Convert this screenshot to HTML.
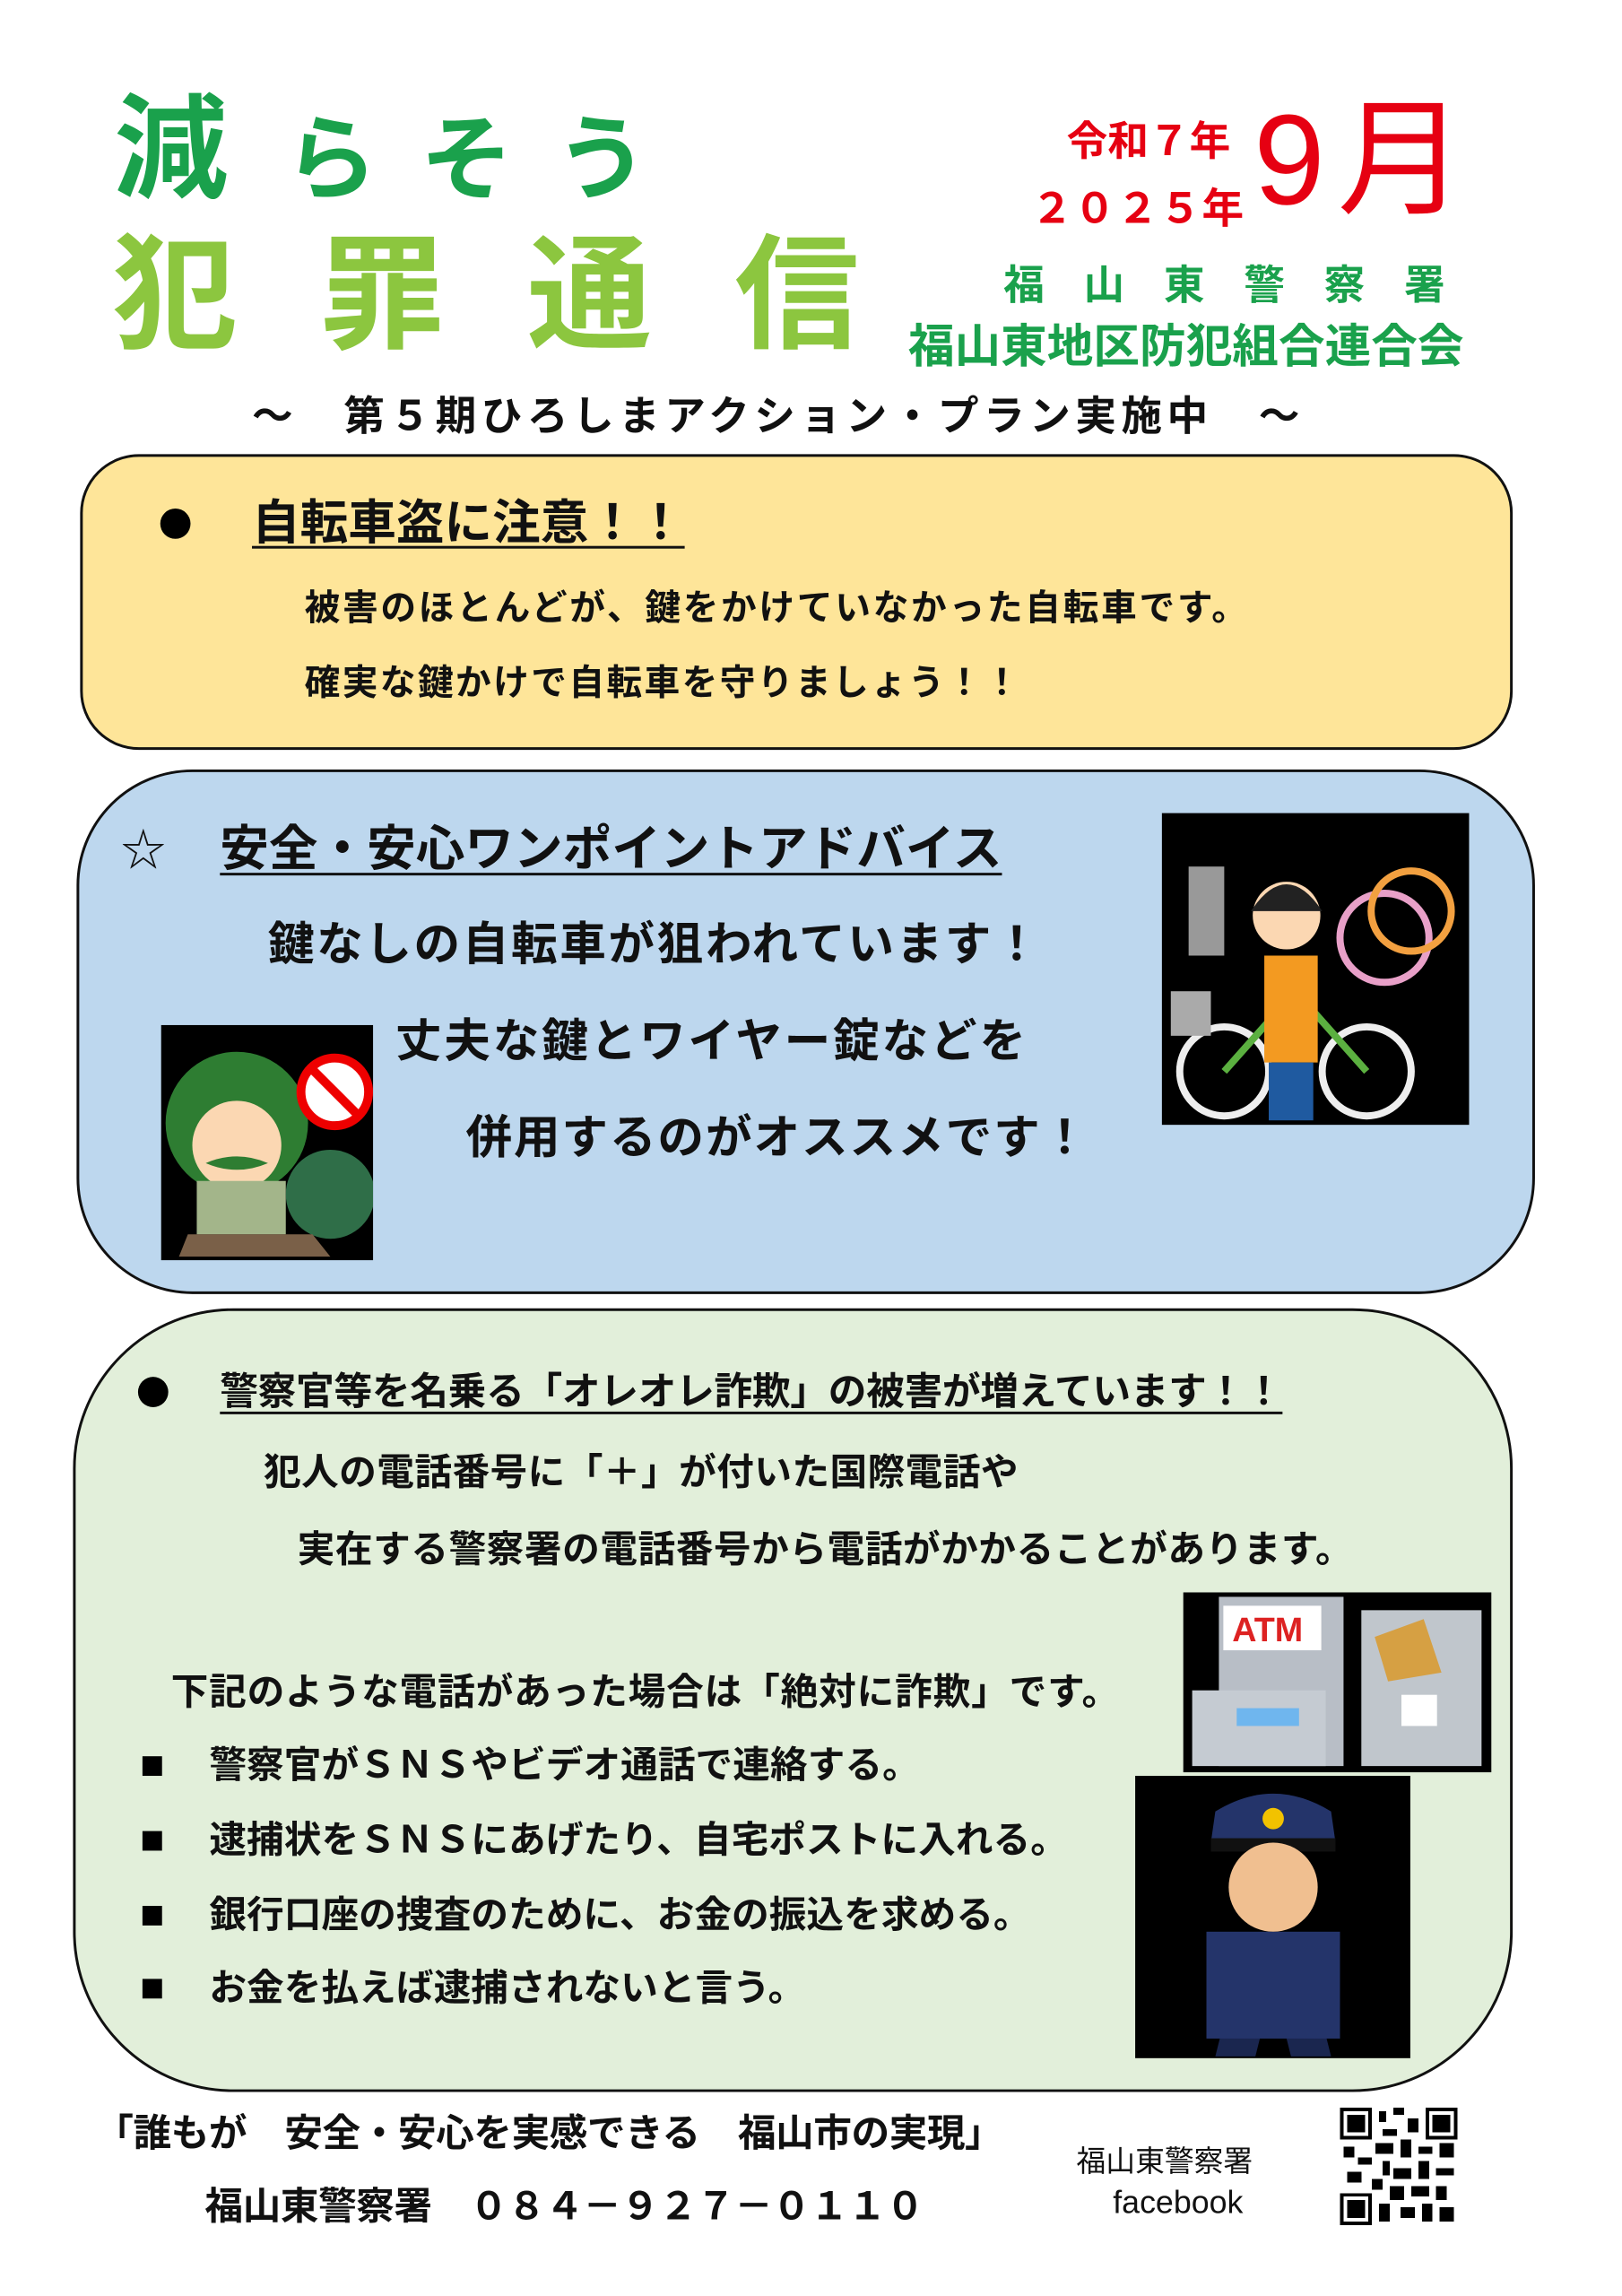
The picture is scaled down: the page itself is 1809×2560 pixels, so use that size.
<!DOCTYPE html>
<html><head><meta charset="utf-8"><style>
body{margin:0;width:1809px;height:2560px;background:#fff;position:relative;overflow:hidden;font-family:"Liberation Sans","Noto Sans CJK JP",sans-serif;}
#w{position:absolute;left:0;top:0;width:1809px;height:2560px;transform:scale(0.993);transform-origin:0 0;}
.t{position:absolute;white-space:nowrap;line-height:1;font-weight:bold;color:#111;}
.box{position:absolute;border:3px solid #111;box-sizing:border-box;}
.img{position:absolute;background:#000;overflow:hidden;}
.dot{position:absolute;width:34px;height:34px;border-radius:50%;background:#000;}
.sq{position:absolute;width:22px;height:22px;background:#000;}
u{text-decoration-thickness:3px;text-underline-offset:8px;}
</style></head><body><div id="w">
<div class="t" style="left:128px;top:105px;font-size:128px;color:#1aa14c;">減</div>
<div class="t" style="left:320px;top:128px;font-size:104px;color:#1aa14c;letter-spacing:48px;">らそう</div>
<div class="t" style="left:126px;top:262px;font-size:140px;color:#8cc63f;letter-spacing:93px;">犯罪通信</div>
<div class="t" style="left:1198px;top:135px;font-size:46px;color:#e60012;">令和７年</div>
<div class="t" style="left:1158px;top:210px;font-size:47px;color:#e60012;letter-spacing:1px;">２０２５年</div>
<div class="t" style="left:1408px;top:108px;font-size:144px;color:#e60012;font-weight:normal;letter-spacing:14px;">9月</div>
<div class="t" style="left:1127px;top:297px;font-size:46px;color:#1aa14c;letter-spacing:44px;">福山東警察署</div>
<div class="t" style="left:1020px;top:364px;font-size:52px;color:#1aa14c;letter-spacing:0px;">福山東地区防犯組合連合会</div>
<div class="t" style="left:283px;top:444px;font-size:46px;letter-spacing:5.5px;">～　第５期ひろしまアクション・プラン実施中　～</div>

<div class="box" style="left:90px;top:510px;width:1609px;height:332px;border-radius:66px;background:#fee599;"></div>
<div class="dot" style="left:180px;top:571px;"></div>
<div class="t" style="left:283px;top:560px;font-size:54px;"><u>自転車盗に注意！！</u></div>
<div class="t" style="left:342px;top:663px;font-size:40px;letter-spacing:2.7px;">被害のほとんどが、鍵をかけていなかった自転車です。</div>
<div class="t" style="left:342px;top:747px;font-size:40px;letter-spacing:2.4px;">確実な鍵かけで自転車を守りましょう！！</div>

<div class="box" style="left:86px;top:864px;width:1638px;height:589px;border-radius:130px;background:#bdd7ee;"></div>
<div class="t" style="left:136px;top:930px;font-size:50px;font-weight:normal;">☆</div>
<div class="t" style="left:247px;top:926px;font-size:55px;"><u>安全・安心ワンポイントアドバイス</u></div>
<div class="t" style="left:301px;top:1035px;font-size:52px;letter-spacing:2.6px;">鍵なしの自転車が狙われています！</div>
<div class="t" style="left:444px;top:1144px;font-size:52px;letter-spacing:2.8px;">丈夫な鍵とワイヤー錠などを</div>
<div class="t" style="left:523px;top:1252px;font-size:52px;letter-spacing:1.9px;">併用するのがオススメです！</div>
<div class="img" style="left:1305px;top:913px;width:345px;height:350px;">
<svg width="345" height="350"><g fill="none" stroke-width="8"><circle cx="70" cy="290" r="50" stroke="#eee"/><circle cx="230" cy="290" r="50" stroke="#eee"/><path d="M70 290 L150 200 L230 290" stroke="#5bb040"/><circle cx="250" cy="140" r="50" stroke="#e8a0c8"/><circle cx="280" cy="110" r="45" stroke="#f2a040"/></g><rect x="30" y="60" width="40" height="100" fill="#999"/><rect x="10" y="200" width="45" height="50" fill="#aaa"/><rect x="115" y="160" width="60" height="120" fill="#f39a21"/><rect x="120" y="280" width="50" height="65" fill="#1f5aa0"/><circle cx="140" cy="115" r="38" fill="#fbd7b2"/><path d="M100 110 Q140 50 180 110" fill="#222"/></svg></div>
<div class="img" style="left:181px;top:1151px;width:238px;height:264px;">
<svg width="238" height="264"><circle cx="85" cy="110" r="80" fill="#2e7d32"/><circle cx="85" cy="135" r="50" fill="#fbd7b2"/><path d="M50 155 Q85 140 120 155 Q85 170 50 155" fill="#2e7d32"/><rect x="40" y="175" width="100" height="60" fill="#a3b58a"/><circle cx="190" cy="190" r="50" fill="#2f6e48"/><path d="M30 235 L170 235 L190 260 L20 260Z" fill="#7a6048"/><circle cx="195" cy="75" r="38" fill="#fff" stroke="#e00" stroke-width="10"/><line x1="168" y1="48" x2="222" y2="102" stroke="#e00" stroke-width="10"/></svg></div>

<div class="box" style="left:82px;top:1469px;width:1617px;height:880px;border-radius:180px;background:#e2efda;"></div>
<div class="dot" style="left:155px;top:1546px;"></div>
<div class="t" style="left:247px;top:1542px;font-size:43px;letter-spacing:-0.3px;"><u>警察官等を名乗る「オレオレ詐欺」の被害が増えています！！</u></div>
<div class="t" style="left:296px;top:1632px;font-size:42px;letter-spacing:0.4px;">犯人の電話番号に「＋」が付いた国際電話や</div>
<div class="t" style="left:334px;top:1719px;font-size:42px;letter-spacing:0.5px;">実在する警察署の電話番号から電話がかかることがあります。</div>
<div class="t" style="left:192px;top:1879px;font-size:42px;letter-spacing:0.8px;">下記のような電話があった場合は「絶対に詐欺」です。</div>
<div class="sq" style="left:160px;top:1972px;"></div><div class="t" style="left:235px;top:1961px;font-size:42px;">警察官がＳＮＳやビデオ通話で連絡する。</div>
<div class="sq" style="left:160px;top:2056px;"></div><div class="t" style="left:235px;top:2045px;font-size:42px;">逮捕状をＳＮＳにあげたり、自宅ポストに入れる。</div>
<div class="sq" style="left:160px;top:2140px;"></div><div class="t" style="left:235px;top:2129px;font-size:42px;">銀行口座の捜査のために、お金の振込を求める。</div>
<div class="sq" style="left:160px;top:2222px;"></div><div class="t" style="left:235px;top:2211px;font-size:42px;">お金を払えば逮捕されないと言う。</div>
<div class="img" style="left:1329px;top:1788px;width:346px;height:202px;">
<svg width="346" height="202"><rect x="40" y="5" width="140" height="190" fill="#b8bec6"/><rect x="10" y="110" width="150" height="85" fill="#c5cbd2"/><rect x="60" y="130" width="70" height="20" fill="#6fb6ee"/><rect x="45" y="15" width="110" height="50" fill="#fff"/><text x="55" y="55" font-family="Liberation Sans" font-weight="bold" font-size="38" fill="#d22">ATM</text><rect x="200" y="20" width="135" height="175" fill="#c0c6cc"/><path d="M215 50 L270 30 L290 90 L230 100Z" fill="#d6a043"/><rect x="245" y="115" width="40" height="35" fill="#fff"/></svg></div>
<div class="img" style="left:1275px;top:1994px;width:309px;height:317px;">
<svg width="309" height="317"><path d="M90 40 Q155 0 220 40 L225 75 L85 75Z" fill="#24346a"/><circle cx="155" cy="48" r="12" fill="#f2c200"/><rect x="85" y="70" width="140" height="15" fill="#111"/><circle cx="155" cy="125" r="50" fill="#f0bf90"/><rect x="80" y="175" width="150" height="120" fill="#24346a"/><path d="M95 295 L140 295 L135 315 L90 315Z M170 295 L215 295 L220 315 L175 315Z" fill="#1a264f"/></svg></div>

<div class="t" style="left:107px;top:2375px;font-size:43px;letter-spacing:-0.5px;">「誰もが　安全・安心を実感できる　福山市の実現」</div>
<div class="t" style="left:230px;top:2457px;font-size:43px;letter-spacing:-0.5px;">福山東警察署　０８４－９２７－０１１０</div>
<div class="t" style="left:1209px;top:2410px;font-size:33px;font-weight:normal;">福山東警察署</div>
<div class="t" style="left:1250px;top:2455px;font-size:36px;font-weight:normal;">facebook</div>
<svg style="position:absolute;left:1505px;top:2365px" width="132" height="135" viewBox="0 0 33 33" shape-rendering="crispEdges">
<rect width="33" height="33" fill="#fff"/>
<g fill="#000"><rect x="0" y="0" width="9" height="9"/><rect x="24" y="0" width="9" height="9"/><rect x="0" y="24" width="9" height="9"/></g>
<g fill="#fff"><rect x="1" y="1" width="7" height="7"/><rect x="25" y="1" width="7" height="7"/><rect x="1" y="25" width="7" height="7"/></g>
<g fill="#000"><rect x="2" y="2" width="5" height="5"/><rect x="26" y="2" width="5" height="5"/><rect x="2" y="26" width="5" height="5"/>
<rect x="11" y="1" width="2" height="3"/><rect x="15" y="0" width="3" height="2"/><rect x="19" y="3" width="3" height="4"/><rect x="12" y="6" width="4" height="2"/><rect x="10" y="10" width="5" height="3"/><rect x="17" y="9" width="3" height="5"/><rect x="22" y="11" width="4" height="2"/><rect x="28" y="10" width="4" height="4"/><rect x="1" y="11" width="3" height="3"/><rect x="5" y="14" width="4" height="2"/><rect x="12" y="15" width="2" height="4"/><rect x="15" y="17" width="5" height="3"/><rect x="22" y="15" width="3" height="5"/><rect x="27" y="17" width="5" height="2"/><rect x="2" y="18" width="4" height="3"/><rect x="9" y="20" width="3" height="3"/><rect x="14" y="22" width="4" height="4"/><rect x="20" y="22" width="5" height="3"/><rect x="27" y="22" width="3" height="4"/><rect x="11" y="27" width="3" height="5"/><rect x="17" y="28" width="4" height="3"/><rect x="23" y="27" width="3" height="5"/><rect x="28" y="28" width="4" height="4"/></g></svg>
</div></body></html>
